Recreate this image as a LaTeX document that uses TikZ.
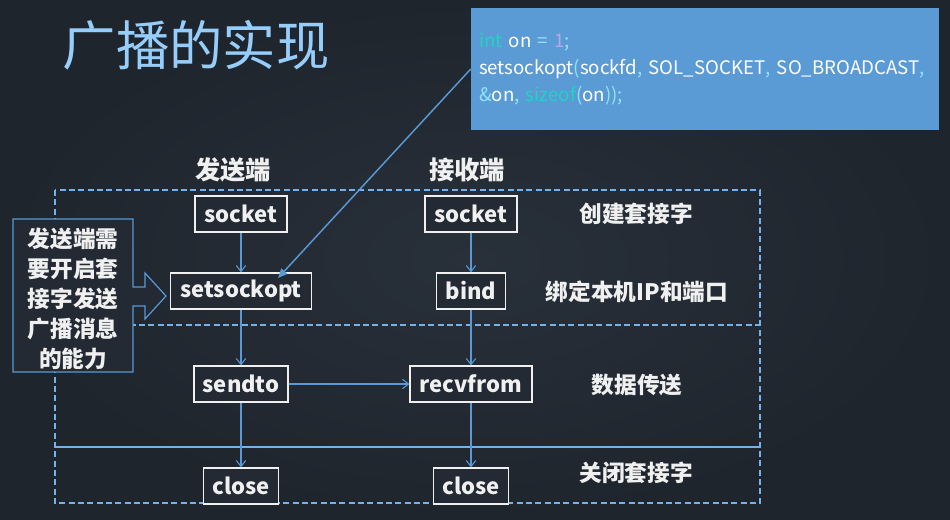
\documentclass[tikz,border=0pt]{standalone}
\usepackage{fontspec}
\setmainfont{Noto Sans CJK SC}
\usetikzlibrary{arrows.meta}
\definecolor{bg}{RGB}{35,42,51}
\definecolor{bgin}{RGB}{40,48,58}
\definecolor{bgout}{RGB}{31,37,45}
\definecolor{titleblue}{RGB}{150,205,250}
\definecolor{codebox}{RGB}{91,155,213}
\definecolor{lineblue}{RGB}{88,153,214}
\definecolor{dashblue}{RGB}{115,178,235}
\definecolor{kwc}{RGB}{35,210,195}
\definecolor{punc}{RGB}{145,228,248}
\definecolor{numc}{RGB}{190,165,235}
\definecolor{txtw}{RGB}{240,240,240}
\tikzset{
  fnbox/.style={draw=txtw, line width=0.9pt, fill=bg, text=txtw, inner sep=0pt,
    minimum height=27pt, font=\bfseries\fontsize{16.5}{18}\selectfont},
  lbl/.style={text=txtw, inner sep=0pt, font=\bfseries\fontsize{17}{20}\selectfont},
  hdr/.style={text=txtw, inner sep=0pt, font=\bfseries\fontsize{19}{22}\selectfont},
  conn/.style={draw=lineblue, line width=0.8pt, -{Straight Barb[length=4.5pt,width=7pt]}},
  dline/.style={draw=dashblue, line width=0.8pt, dash pattern=on 4.5pt off 2.5pt},
}
\begin{document}
\begin{tikzpicture}[x=0.75pt,y=-0.75pt]
\useasboundingbox (0,0) rectangle (950,519);
\shade[inner color=bgin, outer color=bgout] (0,0) rectangle (950,519);
% title
\node[text=titleblue, inner sep=0pt, font=\fontsize{40}{44}\selectfont] (title) at (196,45) {广播的实现};
% code box
\node[fill=codebox, minimum width=351pt, minimum height=91.5pt, inner sep=6pt,
  text width=339pt, align=left, text=white, font=\fontsize{14}{20.25}\selectfont] (code) at (705,69)
  {\textcolor{kwc}{int} on \textcolor{punc}{=} \textcolor{numc}{1}\textcolor{punc}{;}\\
   setsockopt\textcolor{punc}{(}sockfd\textcolor{punc}{,} SOL\_SOCKET\textcolor{punc}{,} SO\_BROADCAST\textcolor{punc}{,}\\
   \textcolor{punc}{\&}on\textcolor{punc}{,} \textcolor{kwc}{sizeof}\textcolor{punc}{(}on\textcolor{punc}{));}};
% headers
\node[hdr] (hs) at (233,170) {发送端};
\node[hdr] (hr) at (467,170) {接收端};
% dashed frame and dividers
\draw[dline] (55,190) rectangle (760,503);
\draw[dline] (55,325) -- (760,325);
\draw[draw=dashblue, line width=0.8pt] (55,447) -- (760,447);
% callout
\draw[draw=lineblue, line width=0.9pt, fill=bg]
  (13,219) -- (133,219) -- (133,287) -- (145,287) -- (145,273) -- (166,296) -- (145,319)
  -- (145,306) -- (133,306) -- (133,372) -- (13,372) -- cycle;
\node[text=txtw, inner sep=0pt, align=center, font=\bfseries\fontsize{17}{22.5}\selectfont] (note) at (73,299)
  {发送端需\\要开启套\\接字发送\\广播消息\\的能力};
% function boxes
\node[fnbox, minimum width=69pt] (sockL) at (241,214) {socket};
\node[fnbox, minimum width=69pt] (sockR) at (471,214) {socket};
\node[fnbox, minimum width=105.75pt] (setopt) at (241,291) {setsockopt};
\node[fnbox, minimum width=51.75pt] (bind) at (471,291) {bind};
\node[fnbox, minimum width=70.5pt] (sendto) at (241,384) {sendto};
\node[fnbox, minimum width=91.5pt] (recvfrom) at (471,384) {recvfrom};
\node[fnbox, minimum width=56.25pt] (closeL) at (241,486) {close};
\node[fnbox, minimum width=56.25pt] (closeR) at (471,486) {close};
% right labels
\node[lbl] (l1) at (636,214) {创建套接字};
\node[lbl] (l2) at (637,292) {绑定本机IP和端口};
\node[lbl] (l3) at (637,385) {数据传送};
\node[lbl] (l4) at (636,473) {关闭套接字};
% connectors
\draw[conn] (sockL) -- (setopt);
\draw[conn] (setopt) -- (sendto);
\draw[conn] (sendto) -- (closeL);
\draw[conn] (sockR) -- (bind);
\draw[conn] (bind) -- (recvfrom);
\draw[conn] (recvfrom) -- (closeR);
\draw[conn] (sendto) -- (recvfrom);
\coordinate (tipS) at (278,278);
\draw[draw=lineblue, line width=1.1pt, -{Triangle[length=7pt,width=6pt]}] (code.west) -- (tipS);
\end{tikzpicture}
\end{document}
